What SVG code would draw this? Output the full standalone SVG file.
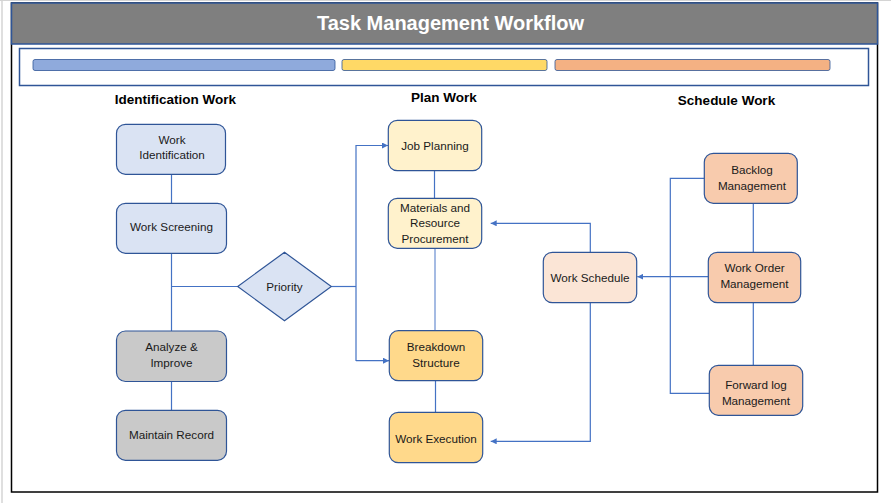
<svg xmlns="http://www.w3.org/2000/svg" width="891" height="503" viewBox="0 0 891 503">
<style>
.node{stroke:#2f5597;stroke-width:1.2}
.blue{fill:#dae3f3}.gray{fill:#c9c9c9}.ly{fill:#fff2cc}.dy{fill:#ffd98b}.lo{fill:#fbe5d6}.do{fill:#f8cbad}
.t{font-family:"Liberation Sans",Arial,sans-serif;font-size:11.7px;fill:#1a1a1a;text-anchor:middle}
.h{font-family:"Liberation Sans",Arial,sans-serif;font-size:13.5px;font-weight:bold;fill:#000;text-anchor:middle}
.c{fill:none;stroke:#4472c4;stroke-width:1.2}
.bar{stroke:#2f5597;stroke-width:0.8}
</style>
<defs>
<marker id="ah" viewBox="0 0 10 10" refX="10" refY="5" markerWidth="6" markerHeight="6" markerUnits="userSpaceOnUse" orient="auto">
<path d="M0,0 L10,5 L0,10 z" fill="#4472c4"/>
</marker>
</defs>
<rect width="891" height="503" fill="#fff"/>
<line x1="2" y1="0" x2="2" y2="503" stroke="#d4d4d4" stroke-width="1.5"/>
<line x1="0" y1="0.5" x2="891" y2="0.5" stroke="#d4d4d4" stroke-width="1"/>
<rect x="11.5" y="3" width="866" height="489" fill="#fff" stroke="#000" stroke-width="1.5"/>
<g id="title">
<rect x="11.5" y="3" width="866" height="41" fill="#7f7f7f" stroke="#2f5597" stroke-width="1.5"/>
<text x="450.5" y="29.5" font-family="'Liberation Sans',Arial,sans-serif" font-size="20" font-weight="bold" fill="#fff" text-anchor="middle">Task Management Workflow</text>
</g>
<g id="legend">
<rect x="19.5" y="48.5" width="849" height="37" fill="#fff" stroke="#2f5597" stroke-width="1.5"/>
<rect class="bar" x="33" y="59.5" width="302" height="11" rx="2" fill="#8faadc"/>
<rect class="bar" x="342" y="59.5" width="205" height="11" rx="2" fill="#ffd966"/>
<rect class="bar" x="555" y="59.5" width="275" height="11" rx="2" fill="#f4b183"/>
</g>
<g id="headings">
<text class="h" x="175.5" y="104">Identification Work</text>
<text class="h" x="444" y="102">Plan Work</text>
<text class="h" x="726.5" y="105">Schedule Work</text>
</g>
<g id="connectors">
<line class="c" x1="171.5" y1="174" x2="171.5" y2="203"/>
<line class="c" x1="171.5" y1="253" x2="171.5" y2="331"/>
<line class="c" x1="171.5" y1="286.5" x2="237.7" y2="286.5"/>
<line class="c" x1="171.5" y1="381.5" x2="171.5" y2="410.5"/>
<line class="c" x1="331.3" y1="286.5" x2="356" y2="286.5"/>
<polyline class="c" points="356,361 356,145.5 388,145.5" marker-end="url(#ah)"/>
<line class="c" x1="356" y1="360.7" x2="389" y2="360.7" marker-end="url(#ah)"/>
<line class="c" x1="434.5" y1="170.5" x2="434.5" y2="198.5"/>
<line x1="435" y1="248.5" x2="435" y2="330.7" stroke="#8faadc" stroke-width="1.6"/>
<line class="c" x1="435.5" y1="380.7" x2="435.5" y2="412.5"/>
<polyline class="c" points="590.3,252.3 590.3,223.3 490.7,223.3" marker-end="url(#ah)"/>
<polyline class="c" points="590.3,302.7 590.3,441.3 490.7,441.3" marker-end="url(#ah)"/>
<polyline class="c" points="704.3,178.3 670.3,178.3 670.3,393.3 709.3,393.3"/>
<line class="c" x1="708.3" y1="276.7" x2="637.3" y2="276.7" marker-end="url(#ah)"/>
<line class="c" x1="753.3" y1="203.3" x2="753.3" y2="252.3"/>
<line class="c" x1="753.3" y1="302.7" x2="753.3" y2="365.3"/>
</g>
<g id="work-identification">
<rect class="node blue" x="116.5" y="124.3" width="109" height="50" rx="9"/>
<text class="t" x="172" y="143.5">Work</text>
<text class="t" x="172" y="159">Identification</text>
</g>
<g id="work-screening">
<rect class="node blue" x="116.5" y="203.3" width="110" height="50" rx="9"/>
<text class="t" x="171.5" y="231">Work Screening</text>
</g>
<g id="priority">
<polygon class="node blue" points="284.5,252.3 331.3,286.5 284.5,320.7 237.7,286.5"/>
<text class="t" x="284.5" y="290.5">Priority</text>
</g>
<g id="analyze-improve">
<rect class="node gray" x="116.5" y="331" width="110" height="50.5" rx="9"/>
<text class="t" x="171.5" y="351">Analyze &amp;</text>
<text class="t" x="171.5" y="367">Improve</text>
</g>
<g id="maintain-record">
<rect class="node gray" x="116.5" y="410.3" width="110" height="50" rx="9"/>
<text class="t" x="171.5" y="439">Maintain Record</text>
</g>
<g id="job-planning">
<rect class="node ly" x="388.3" y="120.3" width="93.4" height="50.4" rx="9"/>
<text class="t" x="435" y="150">Job Planning</text>
</g>
<g id="materials">
<rect class="node ly" x="388.3" y="198.3" width="93.4" height="50" rx="9"/>
<text class="t" x="435" y="211.5">Materials and</text>
<text class="t" x="435" y="227">Resource</text>
<text class="t" x="435" y="242.5">Procurement</text>
</g>
<g id="breakdown-structure">
<rect class="node dy" x="389.3" y="330.7" width="93.4" height="50" rx="9"/>
<text class="t" x="436" y="351">Breakdown</text>
<text class="t" x="436" y="367">Structure</text>
</g>
<g id="work-execution">
<rect class="node dy" x="389.3" y="412.3" width="93.4" height="50.4" rx="9"/>
<text class="t" x="436" y="443">Work Execution</text>
</g>
<g id="work-schedule">
<rect class="node lo" x="543.3" y="252.3" width="93.4" height="50.4" rx="9"/>
<text class="t" x="590" y="282">Work Schedule</text>
</g>
<g id="backlog-management">
<rect class="node do" x="704.3" y="153.3" width="93" height="50" rx="9"/>
<text class="t" x="752" y="174">Backlog</text>
<text class="t" x="752" y="190">Management</text>
</g>
<g id="work-order-management">
<rect class="node do" x="708.3" y="252.3" width="92.4" height="50.4" rx="9"/>
<text class="t" x="754.5" y="272">Work Order</text>
<text class="t" x="754.5" y="288">Management</text>
</g>
<g id="forward-log-management">
<rect class="node do" x="709.3" y="365.3" width="93.4" height="50" rx="9"/>
<text class="t" x="756" y="389">Forward log</text>
<text class="t" x="756" y="405">Management</text>
</g>
</svg>
